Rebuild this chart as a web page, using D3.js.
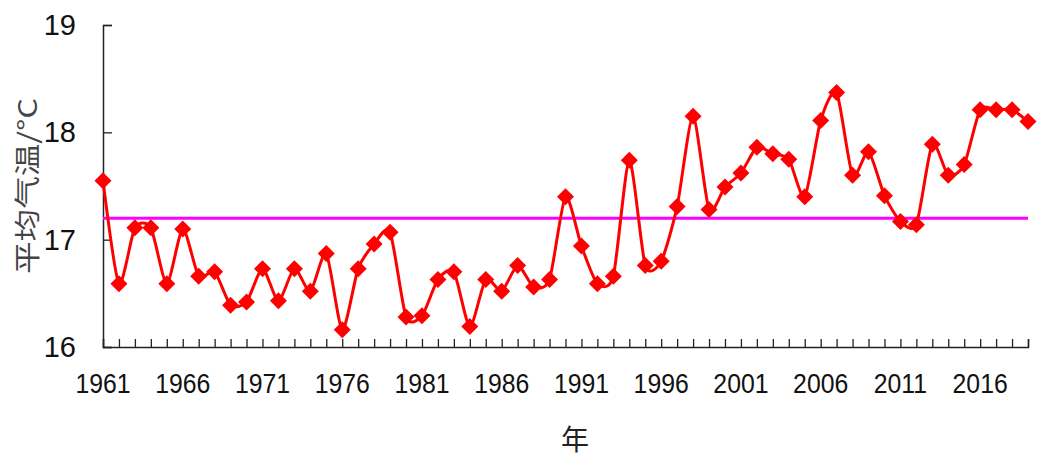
<!DOCTYPE html>
<html>
<head>
<meta charset="utf-8">
<script src="https://cdn.jsdelivr.net/npm/d3@7"></script>
<style>
  html, body { margin: 0; padding: 0; background: #fff; }
  svg { display: block; }
  text { font-family: "Liberation Sans", Arial, sans-serif; fill: #111; }
</style>
</head>
<body>
<svg id="chart" width="1039" height="457"></svg>
<script>
const years = d3.range(1961, 2020);
const temps = [
  17.55, 16.59, 17.11, 17.11, 16.59, 17.10, 16.66, 16.70, 16.39, 16.42,
  16.73, 16.43, 16.73, 16.52, 16.87, 16.16, 16.73, 16.96, 17.07, 16.28,
  16.29, 16.63, 16.70, 16.19, 16.63, 16.52, 16.76, 16.56, 16.63, 17.40,
  16.94, 16.59, 16.66, 17.74, 16.76, 16.80, 17.31, 18.15, 17.28, 17.49,
  17.62, 17.86, 17.80, 17.75, 17.40, 18.11, 18.37, 17.60, 17.82, 17.41,
  17.17, 17.14, 17.89, 17.60, 17.70, 18.21, 18.21, 18.21, 18.10
];
const meanTemp = 17.2;
const yTicks = [16, 17, 18, 19];
const xLabelYears = [1961, 1966, 1971, 1976, 1981, 1986, 1991, 1996, 2001, 2006, 2011, 2016];
const yTitle = "平均气温/°C";
const xTitle = "年";

const svg = d3.select("#chart");
const plotLeft = 103, plotRight = 1028, plotTop = 25, plotBottom = 347;

const x = d3.scaleLinear().domain([1961, 2019]).range([plotLeft, plotRight]);
const y = d3.scaleLinear().domain([16, 19]).range([plotBottom, plotTop]);

// axes
const xAxis = d3.axisBottom(x).tickValues(years).tickSize(-8).tickFormat("");
const gx = svg.append("g").attr("transform", `translate(0,${plotBottom})`).call(xAxis);
gx.select(".domain").attr("stroke", "#222").attr("stroke-width", 1.5);
gx.selectAll(".tick line").attr("stroke", "#222").attr("stroke-width", 1.3);

const yAxis = d3.axisLeft(y).tickValues(yTicks).tickSize(-9).tickFormat("");
const gy = svg.append("g").attr("transform", `translate(${plotLeft},0)`).call(yAxis);
gy.select(".domain").attr("stroke", "#222").attr("stroke-width", 1.5);
gy.selectAll(".tick line").attr("stroke", "#222").attr("stroke-width", 1.3);

// y tick labels
svg.append("g").selectAll("text").data(yTicks).join("text")
  .attr("x", 76).attr("y", d => y(d) + 10)
  .attr("text-anchor", "end")
  .attr("font-size", 29)
  .text(d => d);

// x tick labels
svg.append("g").selectAll("text").data(xLabelYears).join("text")
  .attr("transform", d => `translate(${x(d)},393) scale(0.87,1)`)
  .attr("text-anchor", "middle")
  .attr("font-size", 28.5)
  .text(d => d);

// titles
svg.append("text")
  .attr("transform", "translate(37,186) rotate(-90)")
  .attr("text-anchor", "middle")
  .attr("font-size", 26)
  .attr("textLength", 176)
  .attr("lengthAdjust", "spacingAndGlyphs")
  .style("font-family", "'Noto Sans CJK SC', 'Liberation Sans', sans-serif")
  .style("fill", "#444")
  .text(yTitle);

svg.append("text")
  .attr("x", 575).attr("y", 450)
  .attr("text-anchor", "middle")
  .attr("font-size", 28)
  .style("font-family", "'Noto Sans CJK SC', sans-serif")
  .style("fill", "#222")
  .text(xTitle);

// mean line
svg.append("line")
  .attr("x1", x(1961)).attr("x2", x(2019))
  .attr("y1", y(meanTemp)).attr("y2", y(meanTemp))
  .attr("stroke", "#FF00FF").attr("stroke-width", 3);

// data line
const data = years.map((yr, i) => ({yr, v: temps[i]}));
const line = d3.line().x(d => x(d.yr)).y(d => y(d.v)).curve(d3.curveCardinal.tension(0.3));
svg.append("path").datum(data)
  .attr("d", line)
  .attr("fill", "none")
  .attr("stroke", "#FF0000")
  .attr("stroke-width", 3);

// markers
svg.append("g").selectAll("path").data(data).join("path")
  .attr("transform", d => `translate(${x(d.yr)},${y(d.v)})`)
  .attr("d", "M0,-8.5L8.5,0L0,8.5L-8.5,0Z")
  .attr("fill", "#FF0000");
</script>
</body>
</html>
